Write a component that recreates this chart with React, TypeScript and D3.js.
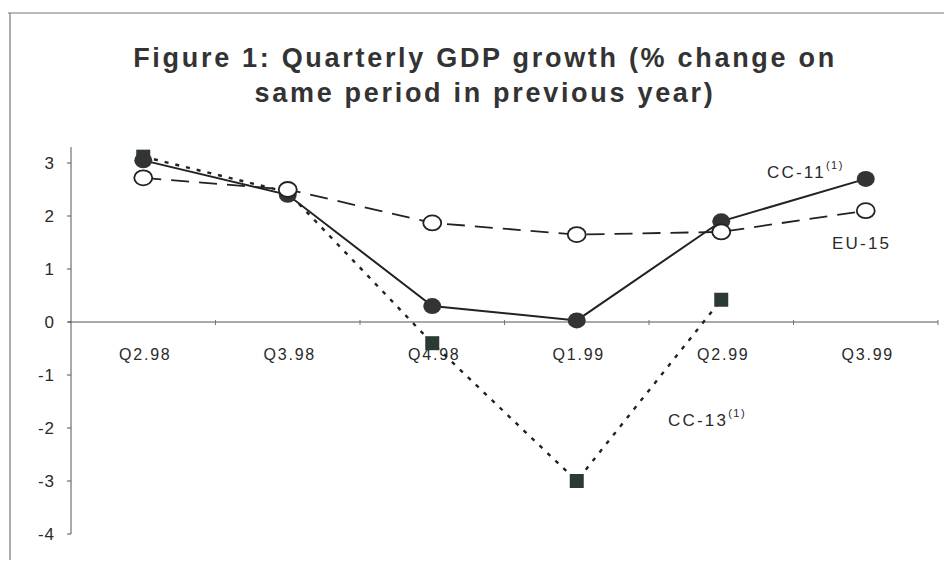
import React, { useEffect, useRef } from 'react';
import * as d3 from 'd3';

const quarters = ['Q2.98', 'Q3.98', 'Q4.98', 'Q1.99', 'Q2.99', 'Q3.99'];
const cc11 = [3.05, 2.4, 0.3, 0.03, 1.9, 2.7];
const eu15 = [2.72, 2.5, 1.87, 1.65, 1.7, 2.1];
const cc13: (number | null)[] = [3.12, 2.45, -0.4, -3.0, 0.42, null];
const yTicks = [3, 2, 1, 0, -1, -2, -3, -4];
const titleLines = [
  'Figure 1: Quarterly GDP growth (% change on',
  'same period in previous year)',
];

const W = 952;
const H = 568;
const font = "'Liberation Sans', Arial, sans-serif";
const ink = '#2a2a2a';

const App: React.FC = () => {
  const ref = useRef<SVGSVGElement>(null);

  useEffect(() => {
    if (!ref.current) return;
    const svg = d3.select(ref.current);
    svg.selectAll('*').remove();

    const left = 71;
    const right = 938;
    const x = d3.scaleBand<string>().domain(quarters).range([left, right]);
    const cx = (q: string) => (x(q) as number) + x.bandwidth() / 2;
    const y = d3.scaleLinear().domain([-4, 3]).range([534, 163]);

    // outer frame
    svg.append('rect').attr('width', W).attr('height', H).attr('fill', '#fff');
    svg.append('line').attr('x1', 8).attr('x2', W).attr('y1', 13).attr('y2', 13)
      .attr('stroke', '#777').attr('stroke-width', 1.2);
    svg.append('line').attr('x1', 10).attr('x2', 10).attr('y1', 13).attr('y2', H)
      .attr('stroke', '#777').attr('stroke-width', 1.2);
    svg.append('line').attr('x1', 10).attr('x2', W).attr('y1', 563).attr('y2', 563)
      .attr('stroke', '#ccc').attr('stroke-width', 1);

    // title
    svg.append('g')
      .selectAll('text')
      .data(titleLines)
      .enter()
      .append('text')
      .attr('x', 485)
      .attr('y', (_, i) => 67 + i * 35)
      .attr('text-anchor', 'middle')
      .attr('font-family', font)
      .attr('font-weight', 'bold')
      .attr('font-size', 27)
      .attr('letter-spacing', 2.7)
      .attr('fill', '#333')
      .text(d => d);

    // y axis
    svg.append('line').attr('x1', left).attr('x2', left)
      .attr('y1', y(3.3)).attr('y2', y(-4))
      .attr('stroke', '#555').attr('stroke-width', 1);
    const yg = svg.append('g');
    yg.selectAll('line').data(yTicks).enter().append('line')
      .attr('x1', left - 4).attr('x2', left)
      .attr('y1', d => y(d)).attr('y2', d => y(d))
      .attr('stroke', '#555');
    yg.selectAll('text').data(yTicks).enter().append('text')
      .attr('x', 55).attr('y', d => y(d) + 6)
      .attr('text-anchor', 'end')
      .attr('font-family', font).attr('font-size', 17)
      .attr('letter-spacing', 1)
      .attr('fill', ink)
      .text(d => String(d));

    // x axis at zero
    svg.append('line').attr('x1', left - 3).attr('x2', right)
      .attr('y1', y(0)).attr('y2', y(0))
      .attr('stroke', '#555').attr('stroke-width', 1);
    const bounds = quarters.slice(1).map(q => x(q) as number).concat([right]);
    svg.append('g').selectAll('line').data(bounds).enter().append('line')
      .attr('x1', d => d).attr('x2', d => d)
      .attr('y1', y(0) - 2).attr('y2', y(0) + 3)
      .attr('stroke', '#777');
    svg.append('g').selectAll('text').data(quarters).enter().append('text')
      .attr('x', d => cx(d) + 2).attr('y', y(0) + 38)
      .attr('text-anchor', 'middle')
      .attr('font-family', font).attr('font-size', 16)
      .attr('letter-spacing', 1.8)
      .attr('fill', ink)
      .text(d => d);

    // CC-13 dotted with squares
    const idx13 = cc13.map((v, i) => [i, v] as [number, number | null]).filter(d => d[1] !== null) as [number, number][];
    const line13 = d3.line<[number, number]>().x(d => cx(quarters[d[0]])).y(d => y(d[1]));
    svg.append('path').datum(idx13).attr('d', line13)
      .attr('fill', 'none').attr('stroke', '#222').attr('stroke-width', 2.4)
      .attr('stroke-dasharray', '4,7');

    // EU-15 dashed with open circles
    const lineS = d3.line<number>().x((_, i) => cx(quarters[i])).y(d => y(d));
    svg.append('path').datum(eu15).attr('d', lineS)
      .attr('fill', 'none').attr('stroke', '#222').attr('stroke-width', 1.8)
      .attr('stroke-dasharray', '18,10');

    // CC-11 solid with filled circles
    svg.append('path').datum(cc11).attr('d', lineS)
      .attr('fill', 'none').attr('stroke', '#222').attr('stroke-width', 2);

    svg.append('g').selectAll('rect').data(idx13).enter().append('rect')
      .attr('x', d => cx(quarters[d[0]]) - 7).attr('y', d => y(d[1]) - 7)
      .attr('width', 14).attr('height', 14).attr('fill', '#2c3a34');

    svg.append('g').selectAll('ellipse').data(cc11).enter().append('ellipse')
      .attr('cx', (_, i) => cx(quarters[i])).attr('cy', d => y(d))
      .attr('rx', 9).attr('ry', 8).attr('fill', '#333');

    svg.append('g').selectAll('.open').data(eu15).enter().append('ellipse')
      .attr('cx', (_, i) => cx(quarters[i])).attr('cy', d => y(d))
      .attr('rx', 9).attr('ry', 7.5).attr('fill', '#fff').attr('stroke', '#222').attr('stroke-width', 1.8);

    // series labels
    const label = (tx: number, ty: number, main: string, sup: boolean) => {
      const t = svg.append('text').attr('x', tx).attr('y', ty)
        .attr('font-family', font).attr('font-size', 17)
        .attr('letter-spacing', 2.2).attr('fill', ink);
      t.append('tspan').text(main);
      if (sup) {
        t.append('tspan').attr('dy', -9).attr('font-size', 11)
          .attr('letter-spacing', 1.5).text('(1)');
      }
    };
    label(767, 178, 'CC-11', true);
    label(832, 249, 'EU-15', false);
    label(668, 426, 'CC-13', true);
  }, []);

  return <svg ref={ref} width={W} height={H} style={{ display: 'block', margin: '-8px' }} />;
};

export default App;
